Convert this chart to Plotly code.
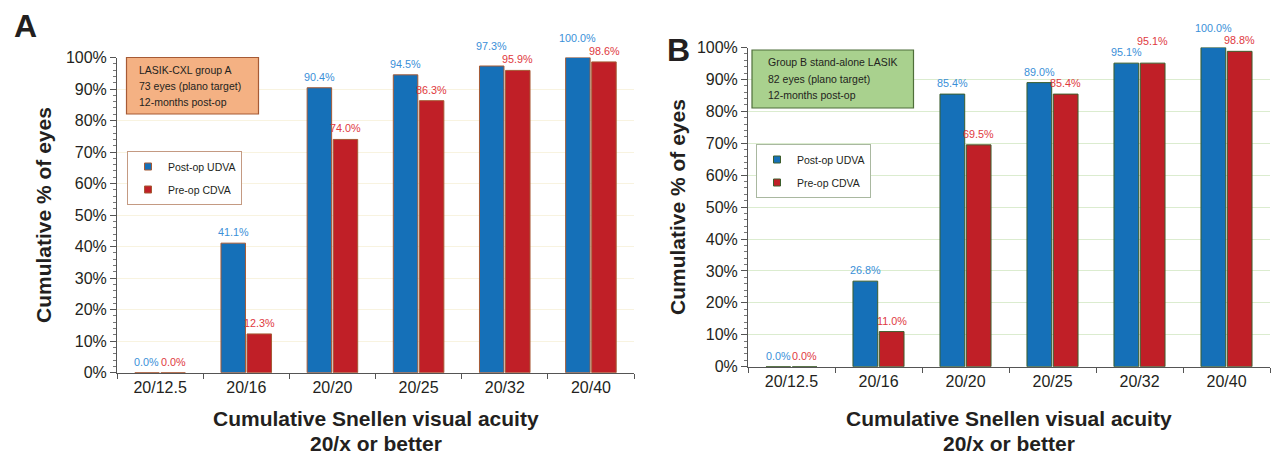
import plotly.graph_objects as go

# ---------------- data ----------------
categories = ["20/12.5", "20/16", "20/20", "20/25", "20/32", "20/40"]
a_postop_udva = [0.0, 41.1, 90.4, 94.5, 97.3, 100.0]
a_preop_cdva = [0.0, 12.3, 74.0, 86.3, 95.9, 98.6]
b_postop_udva = [0.0, 26.8, 85.4, 89.0, 95.1, 100.0]
b_preop_cdva = [0.0, 11.0, 69.5, 85.4, 95.1, 98.8]
series_names = ["Post-op UDVA", "Pre-op CDVA"]
box_a_lines = ["LASIK-CXL group A", "73 eyes (plano target)", "12-months post-op"]
box_b_lines = ["Group B stand-alone LASIK", "82 eyes (plano target)", "12-months post-op"]

# ---------------- style ----------------
W, H = 1276, 456
FONT = "Liberation Sans, Arial, sans-serif"
TXT = "#231f20"
BLUE = "#1570b8"
RED = "#c01f27"
BLUE_LBL = "#3a8fd8"
RED_LBL = "#e0393e"
AX = "#555555"

# label raise (category index) for labels lifted above the others
raise_a = {("u", 4): 9, ("u", 5): 9}
raise_b = {("c", 4): 11, ("u", 5): 8}

def px_x(p):
    return p / W

def px_y(p):
    return 1 - p / H

fig = go.Figure()

panels = [
    dict(xa="x", ya="y", legend="legend", u=a_postop_udva, c=a_preop_cdva, edge="#a65a35"),
    dict(xa="x2", ya="y2", legend="legend2", u=b_postop_udva, c=b_preop_cdva, edge="#3d5e2c"),
]
for k, p in enumerate(panels):
    for j, (vals, col) in enumerate([(p["u"], BLUE), (p["c"], RED)]):
        fig.add_trace(go.Bar(
            x=categories, y=vals, name=series_names[j],
            xaxis=p["xa"], yaxis=p["ya"], legend=p["legend"],
            legendgroup=f"g{k}{j}", showlegend=False,
            marker=dict(color=col, line=dict(color=p["edge"], width=1)),
            hoverinfo="x+y",
        ))
    # legend entries (small square symbols) tied to the bar traces through legendgroup
    for j, col in enumerate([BLUE, RED]):
        fig.add_trace(go.Scatter(
            x=[None], y=[None], mode="markers", name=series_names[j],
            xaxis=p["xa"], yaxis=p["ya"], legend=p["legend"],
            legendgroup=f"g{k}{j}", showlegend=True,
            marker=dict(symbol="square", size=7, color=col, line=dict(color=p["edge"], width=1)),
        ))

annotations = []
# value labels
for p, raises in [(panels[0], raise_a), (panels[1], raise_b)]:
    for key, vals, off, col in [("u", p["u"], -0.152, BLUE_LBL), ("c", p["c"], 0.152, RED_LBL)]:
        for i, v in enumerate(vals):
            annotations.append(dict(
                x=i + off, y=v, xref=p["xa"], yref=p["ya"],
                text=f"{v:.1f}%", showarrow=False, xanchor="center", yanchor="bottom",
                yshift=3 + raises.get((key, i), 0),
                font=dict(family=FONT, size=10.8, color=col),
            ))

def centered(cx, cy, text, size, **kw):
    d = dict(x=px_x(cx), y=px_y(cy), xref="paper", yref="paper", text=text,
             showarrow=False, xanchor="center", yanchor="middle",
             font=dict(family=FONT, size=size, color=TXT))
    d.update(kw)
    return d

# panel letters
annotations.append(centered(25, 26, "<b>A</b>", 32))
annotations.append(centered(678, 50, "<b>B</b>", 32))

# axis titles
for cx, cy in [(43, 215), (677, 207)]:
    annotations.append(centered(cx, cy, "<b>Cumulative % of eyes</b>", 21, textangle=-90))
for cx in [375.5, 1009]:
    annotations.append(centered(cx, 418, "<b>Cumulative Snellen visual acuity</b>", 21))
    annotations.append(centered(cx, 443, "<b>20/x or better</b>", 21))

# text boxes
shapes = [
    dict(type="rect", xref="paper", yref="paper", x0=px_x(126.5), x1=px_x(258.5),
         y0=px_y(114), y1=px_y(57.5), fillcolor="#f4b183", line=dict(color="#a65a35", width=1.2)),
    dict(type="rect", xref="paper", yref="paper", x0=px_x(752), x1=px_x(913.5),
         y0=px_y(108), y1=px_y(50), fillcolor="#a9d18e", line=dict(color="#4f6f3a", width=1.2)),
]
for x0, ys, lines in [(137, [70, 86, 102], box_a_lines), (766, [62, 79, 95], box_b_lines)]:
    for yy, t in zip(ys, lines):
        annotations.append(dict(x=px_x(x0), y=px_y(yy), xref="paper", yref="paper", text=t,
                                xanchor="left", yanchor="middle", showarrow=False,
                                font=dict(family=FONT, size=10.5, color=TXT)))

def xaxis(domain, anchor):
    return dict(domain=domain, anchor=anchor, type="category", range=[-0.5, 5.5],
                tickson="boundaries", ticks="outside", ticklen=5, tickcolor=AX,
                showline=True, linecolor=AX, linewidth=1, showgrid=False, automargin=False,
                tickfont=dict(family=FONT, size=16, color=TXT), fixedrange=True)

def yaxis(domain, anchor, grid):
    return dict(domain=domain, anchor=anchor, range=[0, 100], dtick=10, ticksuffix="%",
                ticks="outside", ticklen=6, tickcolor=AX, showline=True, linecolor=AX,
                linewidth=1, zeroline=False, showgrid=True, gridcolor=grid, gridwidth=1,
                automargin=False,
                minor=dict(dtick=2, ticks="outside", ticklen=3, tickcolor="#777777", showgrid=False),
                tickfont=dict(family=FONT, size=16, color=TXT), fixedrange=True)

legend_common = dict(xanchor="left", yanchor="top", borderwidth=1, bgcolor="white",
                     font=dict(family=FONT, size=10.5, color=TXT), tracegroupgap=4,
                     itemwidth=30, orientation="v")

fig.update_layout(
    width=W, height=H, margin=dict(l=0, r=0, t=0, b=0, autoexpand=False),
    paper_bgcolor="white", plot_bgcolor="white",
    barmode="group", bargap=0.395, bargroupgap=0.06,
    font=dict(family=FONT, color=TXT),
    xaxis=xaxis([px_x(117), px_x(634)], "y"),
    yaxis=yaxis([px_y(372.7), px_y(57.5)], "x", "#f8f3e0"),
    xaxis2=xaxis([px_x(748), px_x(1270)], "y2"),
    yaxis2=yaxis([px_y(366.7), px_y(47.5)], "x2", "#dbeccf"),
    legend=dict(x=px_x(127), y=px_y(151), bordercolor="#c49a82", **legend_common),
    legend2=dict(x=px_x(756), y=px_y(144), bordercolor="#a9b8a0", **legend_common),
    annotations=annotations, shapes=shapes, showlegend=True,
)

fig.write_html("out.html", config={"displayModeBar": False},
               post_script="document.body.style.margin='0';")
